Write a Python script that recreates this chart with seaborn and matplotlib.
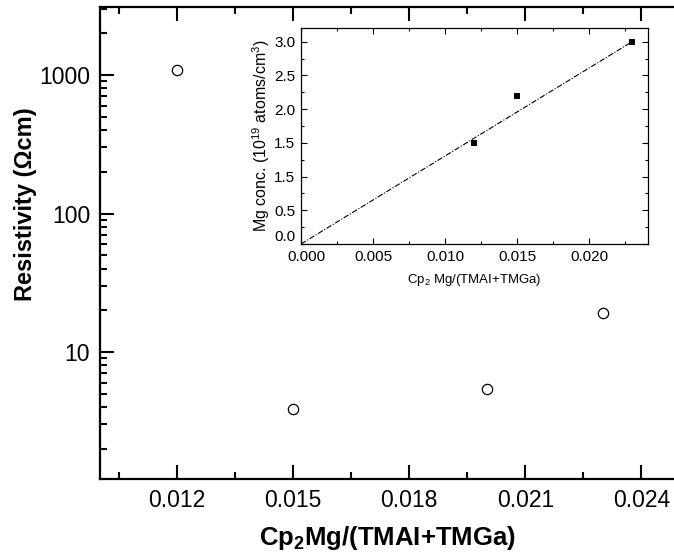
import numpy as np
import pandas as pd
import matplotlib
matplotlib.use("Agg")
import matplotlib.pyplot as plt
import matplotlib.transforms as mtransforms
from matplotlib.ticker import MultipleLocator, LogLocator, NullFormatter, FixedLocator
import seaborn as sns

# ---- data ----
ratio = [0.012, 0.015, 0.0200, 0.0230]
resistivity = [1080, 3.9, 5.4, 19.0]

inset_ratio = [0.012, 0.015, 0.023]
mg_conc = [1.5, 2.2, 3.0]
fit_x = [0.0, 0.023]
fit_y = [0.0, 3.0]

main_xticks = [0.012, 0.015, 0.018, 0.021, 0.024]
main_xticklabels = ["0.012", "0.015", "0.018", "0.021", "0.024"]
main_yticks = [10, 100, 1000]
main_yticklabels = ["10", "100", "1000"]
inset_xticks = [0.000, 0.005, 0.010, 0.015, 0.020]
inset_xticklabels = ["0.000", "0.005", "0.010", "0.015", "0.020"]
inset_yticks = [0.0, 0.5, 1.0, 1.5, 2.0, 2.5, 3.0]
inset_yticklabels = ["0.0", "0.5", "1.5", "1.5", "2.0", "2.5", "3.0"]

sns.set_style("ticks")
plt.rcParams['font.family'] = ['Liberation Sans', 'DejaVu Sans']
plt.rcParams['mathtext.fontset'] = 'custom'
plt.rcParams['mathtext.rm'] = 'Liberation Sans'
plt.rcParams['mathtext.it'] = 'Liberation Sans:italic'
plt.rcParams['mathtext.bf'] = 'Liberation Sans:bold'
for key in ['text.color', 'axes.labelcolor', 'xtick.color', 'ytick.color',
            'xtick.labelcolor', 'ytick.labelcolor', 'axes.edgecolor']:
    plt.rcParams[key] = 'black'

fig = plt.figure(figsize=(6.74, 5.56), dpi=100)
ax = fig.add_axes([0.148, 0.1385, 1.003 - 0.148, 0.9874 - 0.1385])

main_df = pd.DataFrame({"x": ratio, "y": resistivity})
sns.scatterplot(data=main_df, x="x", y="y", ax=ax, marker="o", s=55,
                facecolor="white", edgecolor="black", linewidth=0.9, zorder=3)
ax.set_yscale("log")
ax.set_xlim(0.010, 0.01 + 576 / 116 * 0.003)
ax.set_ylim(1.21, 3100)

ax.set_xticks(main_xticks)
ax.set_xticklabels(main_xticklabels)
ax.xaxis.set_minor_locator(FixedLocator(np.arange(0.0105, 0.0250, 0.003)))
ax.set_yticks(main_yticks)
ax.set_yticklabels(main_yticklabels)
ax.yaxis.set_minor_locator(LogLocator(base=10, subs=np.arange(2, 10)))
ax.yaxis.set_minor_formatter(NullFormatter())

ax.tick_params(axis="both", which="major", direction="in", length=10, width=1.5,
               labelsize=16.5, pad=7, top=True, right=False, colors="black")
ax.tick_params(axis="both", which="minor", direction="in", length=5, width=1.5,
               top=True, right=False, colors="black")
for sp in ax.spines.values():
    sp.set_linewidth(1.6)
    sp.set_color("black")

ax.set_xlabel(r"Cp$_\mathbf{2}$Mg/(TMAI+TMGa)", fontsize=18.5, fontweight="bold",
              labelpad=9, color="black")
ax.set_ylabel("Resistivity (Ωcm)", fontsize=17, fontweight="bold", color="black")
ax.yaxis.set_label_coords(-0.109, (479 - 204) / 472)

# ---- inset ----
ins = fig.add_axes([0.4466, 0.5612, 0.9614 - 0.4466, 0.9505 - 0.5612])
fit_df = pd.DataFrame({"x": fit_x, "y": fit_y})
sns.lineplot(data=fit_df, x="x", y="y", ax=ins, color="black", linewidth=0.8,
             dashes=False, zorder=2).lines[0].set_dashes([5, 1.5, 1, 1.5])
in_df = pd.DataFrame({"x": inset_ratio, "y": mg_conc})
sns.scatterplot(data=in_df, x="x", y="y", ax=ins, marker="s", s=20,
                color="black", edgecolor="black", linewidth=0, zorder=3)
ins.set_xlim(0.0, 0.0241)
ins.set_ylim(0.0, 3.21)
ins.set_xticks(inset_xticks)
ins.set_xticklabels(inset_xticklabels)
ins.xaxis.set_minor_locator(MultipleLocator(0.0025))
ins.set_yticks(inset_yticks)
ins.set_yticklabels(inset_yticklabels)
ins.yaxis.set_minor_locator(MultipleLocator(0.25))
ins.tick_params(axis="both", which="major", direction="in", length=4, width=0.8,
                labelsize=11, pad=4, top=True, right=True, colors="black")
ins.tick_params(axis="both", which="minor", direction="in", length=2.5, width=0.8,
                top=True, right=True, colors="black")
for sp in ins.spines.values():
    sp.set_linewidth(0.9)
    sp.set_color("black")
ins.set_xlabel(r"Cp$_2$ Mg/(TMAI+TMGa)", fontsize=9.5, labelpad=6, color="black")
ins.set_ylabel(r"Mg conc. (10$^{19}$ atoms/cm$^3$)", fontsize=11.5, labelpad=2, color="black")

# nudge the corner labels apart as in the reference
ins.get_yticklabels()[0].set_va("bottom")
lab0 = ins.get_xticklabels()[0]
lab0.set_transform(lab0.get_transform() + mtransforms.ScaledTranslation(5 / 100, 0, fig.dpi_scale_trans))

fig.savefig("out.png", dpi=100)
